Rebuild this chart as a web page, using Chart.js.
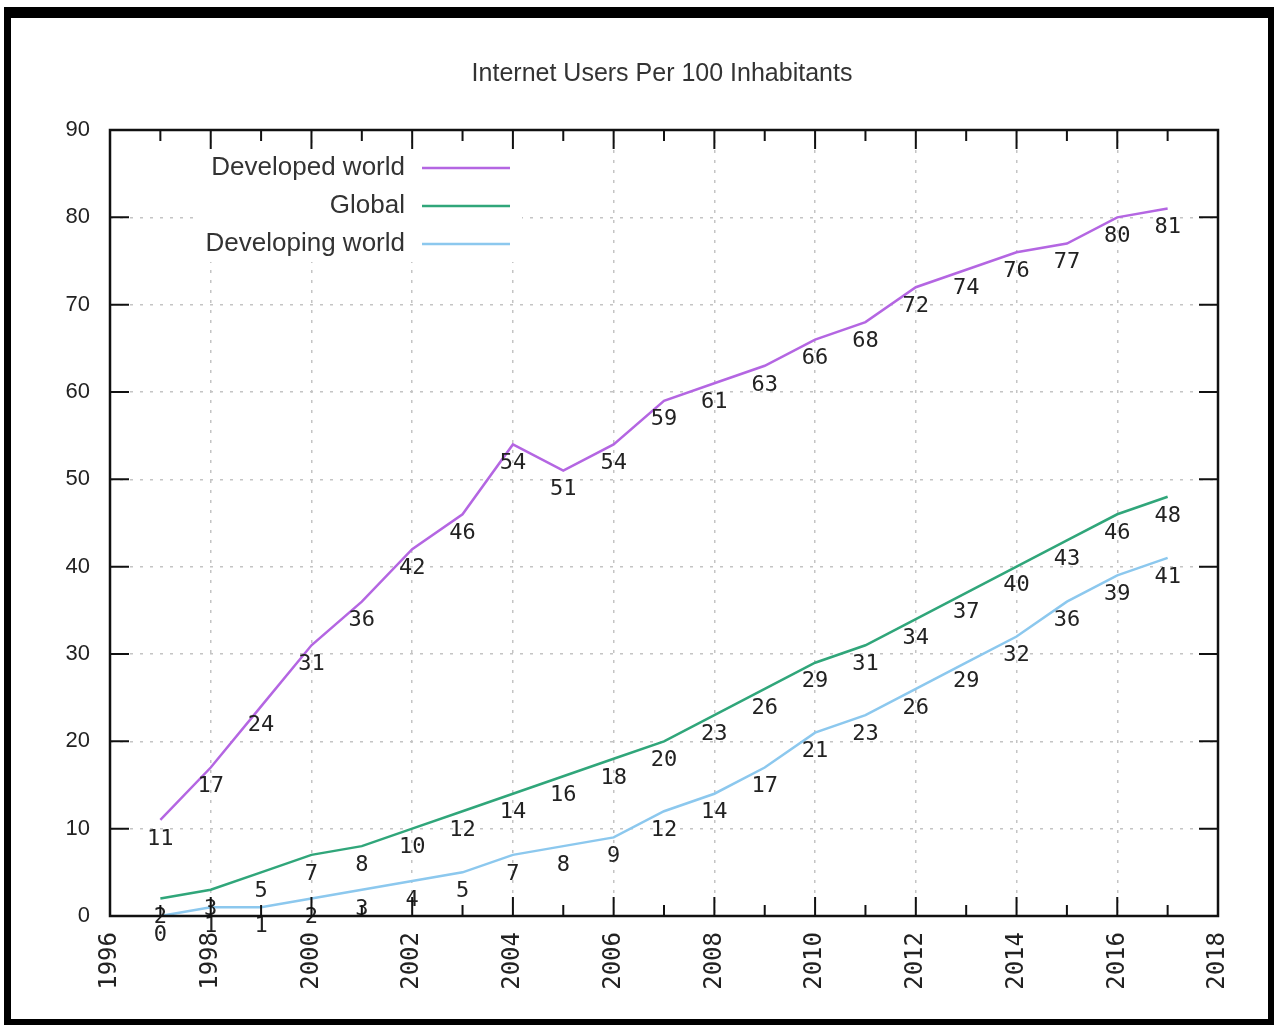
<!DOCTYPE html>
<html>
<head>
    <meta charset="utf-8">
    <title>Internet Users Per 100 Inhabitants</title>
    <script src="https://cdn.jsdelivr.net/npm/chart.js@4.4.0/dist/chart.umd.min.js"></script>
    <style>
        body { margin: 0; background: #fff; }
        #wrap { position: absolute; left: 0; top: 0; width: 1274px; height: 1026px; }
        #frame {
            position: absolute; left: 4px; top: 7px; width: 1270px; height: 1018px;
            box-sizing: border-box; border-style: solid; border-color: #000;
            border-width: 11px 6px 6px 7px; pointer-events: none;
        }
    </style>
</head>
<body>
<div id="wrap">
    <canvas id="usersChart"></canvas>
    <div id="frame"></div>
</div>
<script>
// values
const years = [1997, 1998, 1999, 2000, 2001, 2002, 2003, 2004, 2005, 2006, 2007,
               2008, 2009, 2010, 2011, 2012, 2013, 2014, 2015, 2016, 2017];
const developed  = [11, 17, 24, 31, 36, 42, 46, 54, 51, 54, 59, 61, 63, 66, 68, 72, 74, 76, 77, 80, 81];
const global     = [2, 3, 5, 7, 8, 10, 12, 14, 16, 18, 20, 23, 26, 29, 31, 34, 37, 40, 43, 46, 48];
const developing = [0, 1, 1, 2, 3, 4, 5, 7, 8, 9, 12, 14, 17, 21, 23, 26, 29, 32, 36, 39, 41];
const seriesNames = ['Developed world', 'Global', 'Developing world'];
const chartTitle = 'Internet Users Per 100 Inhabitants';
const xMin = 1996, xMax = 2018, yMax = 90;

function pairs(vals) {
    return vals.map((v, i) => ({ x: years[i], y: v }));
}

// gnuplot style: title, box border, inward ticks, point labels, key
const gnuplotBits = {
    id: 'gnuplotBits',
    afterDatasetsDraw(chart) {
        const ctx = chart.ctx;
        // value labels under each point
        ctx.save();
        ctx.font = '22px "DejaVu Sans Mono"';
        ctx.fillStyle = '#222';
        ctx.textAlign = 'center';
        ctx.textBaseline = 'middle';
        chart.data.datasets.forEach((ds, di) => {
            chart.getDatasetMeta(di).data.forEach((pt, i) => {
                ctx.fillText(String(ds.data[i].y), pt.x, pt.y + 19);
            });
        });
        ctx.restore();

        // key
        ctx.save();
        ctx.fillStyle = '#fff';
        ctx.fillRect(200, 150, 322, 112);
        ctx.font = '26px "Liberation Sans"';
        ctx.textAlign = 'right';
        ctx.textBaseline = 'middle';
        chart.data.datasets.forEach((ds, di) => {
            const y = 168 + di * 38;
            ctx.fillStyle = '#333';
            ctx.fillText(ds.label, 405, y);
            ctx.strokeStyle = ds.borderColor;
            ctx.lineWidth = ds.borderWidth;
            ctx.beginPath();
            ctx.moveTo(422, y);
            ctx.lineTo(510, y);
            ctx.stroke();
        });
        ctx.restore();
    },
    afterDraw(chart) {
        const ctx = chart.ctx;
        const a = chart.chartArea;
        const xs = chart.scales.x, ys = chart.scales.y;
        ctx.save();
        ctx.fillStyle = '#333';
        ctx.font = '25px "Liberation Sans"';
        ctx.textAlign = 'center';
        ctx.textBaseline = 'middle';
        ctx.fillText(chartTitle, 662, 74);

        ctx.strokeStyle = '#111';
        ctx.lineWidth = 2;
        ctx.beginPath();
        for (let v = xMin + 1; v < xMax; v++) {
            const px = xs.getPixelForValue(v);
            const len = v % 2 === 0 ? 19 : 11;
            ctx.moveTo(px, a.bottom); ctx.lineTo(px, a.bottom - len);
            ctx.moveTo(px, a.top); ctx.lineTo(px, a.top + len);
        }
        for (let v = 10; v < yMax; v += 10) {
            const py = ys.getPixelForValue(v);
            ctx.moveTo(a.left, py); ctx.lineTo(a.left + 19, py);
            ctx.moveTo(a.right, py); ctx.lineTo(a.right - 19, py);
        }
        ctx.stroke();
        ctx.lineWidth = 2.5;
        ctx.strokeRect(a.left, a.top, a.right - a.left, a.bottom - a.top);
        ctx.restore();
    }
};

const gridStyle = {
    color: '#c4c4c4',
    lineWidth: 1.5,
    drawTicks: false
};

new Chart(document.getElementById('usersChart'), {
    type: 'line',
    data: {
        datasets: [
            { label: seriesNames[0], data: pairs(developed),  borderColor: '#b466e2', borderWidth: 2.5 },
            { label: seriesNames[1], data: pairs(global),     borderColor: '#30a67a', borderWidth: 2.5 },
            { label: seriesNames[2], data: pairs(developing), borderColor: '#8cc8ee', borderWidth: 2.5 }
        ]
    },
    options: {
        responsive: true,
        maintainAspectRatio: false,
        animation: false,
        elements: { point: { radius: 0 }, line: { tension: 0 } },
        layout: { padding: { left: 0, right: 56, top: 130, bottom: 0 } },
        plugins: {
            legend: { display: false },
            tooltip: { enabled: false },
            title: { display: false }
        },
        scales: {
            x: {
                type: 'linear',
                min: xMin, max: xMax,
                grid: Object.assign({}, gridStyle),
                border: { display: false, dash: [3, 7] },
                afterFit: s => { s.height = 110; },
                ticks: {
                    stepSize: 2,
                    minRotation: 90, maxRotation: 90,
                    padding: 16,
                    color: '#222',
                    font: { family: 'DejaVu Sans Mono', size: 24 },
                    callback: v => String(v)
                }
            },
            y: {
                min: 0, max: yMax,
                grid: Object.assign({}, gridStyle),
                border: { display: false, dash: [3, 7] },
                afterFit: s => { s.width = 110; },
                ticks: {
                    stepSize: 10,
                    padding: 20,
                    color: '#222',
                    font: { family: 'Liberation Sans', size: 22 }
                }
            }
        }
    },
    plugins: [gnuplotBits]
});
</script>
</body>
</html>
